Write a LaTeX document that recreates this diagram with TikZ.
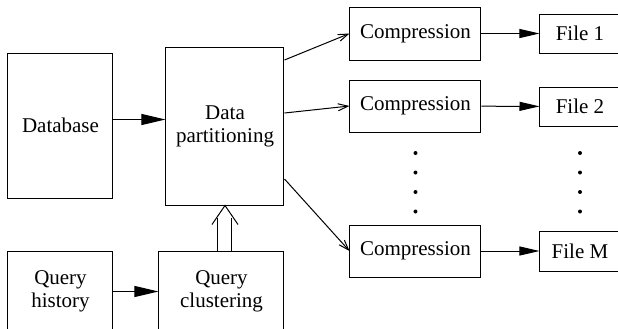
\documentclass[tikz,border=0pt]{standalone}
\usepackage{fontspec}
\setmainfont{Liberation Serif}
\usetikzlibrary{arrows.meta}

\begin{document}
\begin{tikzpicture}[x=0.5pt, y=-0.5pt, line width=0.5pt,
    font=\rmfamily\fontsize{10.5}{11.5}\selectfont,
    box/.style={draw, align=center, inner sep=0pt},
    fat/.style={-{Triangle[length=12pt,width=5.5pt]}},
    small fat/.style={-{Triangle[length=10pt,width=4.5pt]}},
    opentip/.style={-{Straight Barb[length=5pt,width=3.5pt]}}]
  \useasboundingbox (0,0) rectangle (618,328);
  % left column
  \node[box, minimum width=52.5pt, minimum height=72.5pt] (DB) at (60.5,125.5) {Database};
  \node[box, minimum width=52.5pt, minimum height=40.5pt] (QH) at (60.5,291.5) {Query\\history};
  % middle column
  \node[box, minimum width=59pt, minimum height=79pt] (DP) at (225,126) {Data\\partitioning};
  \node[box, minimum width=62.5pt, minimum height=40.5pt] (QC) at (221.5,291.5) {Query\\clustering};
  % compression and files
  \node[box, minimum width=65.5pt, minimum height=26.5pt] (C1) at (415.5,33.5) {Compression};
  \node[box, minimum width=65.5pt, minimum height=26pt] (C2) at (415.5,106) {Compression};
  \node[box, minimum width=65.5pt, minimum height=26pt] (CM) at (415.5,251) {Compression};
  \node[box, minimum width=40pt, minimum height=19.5pt] (F1) at (580,33.5) {File 1};
  \node[box, minimum width=40pt, minimum height=19.5pt] (F2) at (580,106.5) {File 2};
  \node[box, minimum width=40pt, minimum height=20pt] (FM) at (580,251) {File M};

  \draw[fat] ([yshift=3pt]DB.east) -- ([yshift=3pt]DB.east -| DP.west);
  \draw[fat] (QH) -- (QC);
  % double arrow up into the partitioning box
  \draw ([xshift=-3.5pt]DP.south |- QC.north) -- ++(0,16.5pt);
  \draw ([xshift=3.5pt]DP.south |- QC.north) -- ++(0,16.5pt);
  \draw ([shift={(-6.5pt,-9.5pt)}]DP.south) -- (DP.south) -- ([shift={(6.5pt,-9.5pt)}]DP.south);
  \draw[opentip] ([yshift=33pt]DP.east) -- (C1.west);
  \draw[opentip] ([yshift=6.5pt]DP.east) -- (C2.west);
  \draw[opentip] ([yshift=-26.5pt]DP.east) -- (CM.west);
  \draw[small fat] (C1) -- (F1);
  \draw[small fat] (C2) -- (F2);
  \draw[small fat] (CM) -- (FM);
  % dots
  \foreach \y in {153,172.5,192,211.5} {
    \fill (C1.center |- 0,\y) circle (1pt);
    \fill (F1.center |- 0,\y) circle (1pt);
  }
\end{tikzpicture}
\end{document}
